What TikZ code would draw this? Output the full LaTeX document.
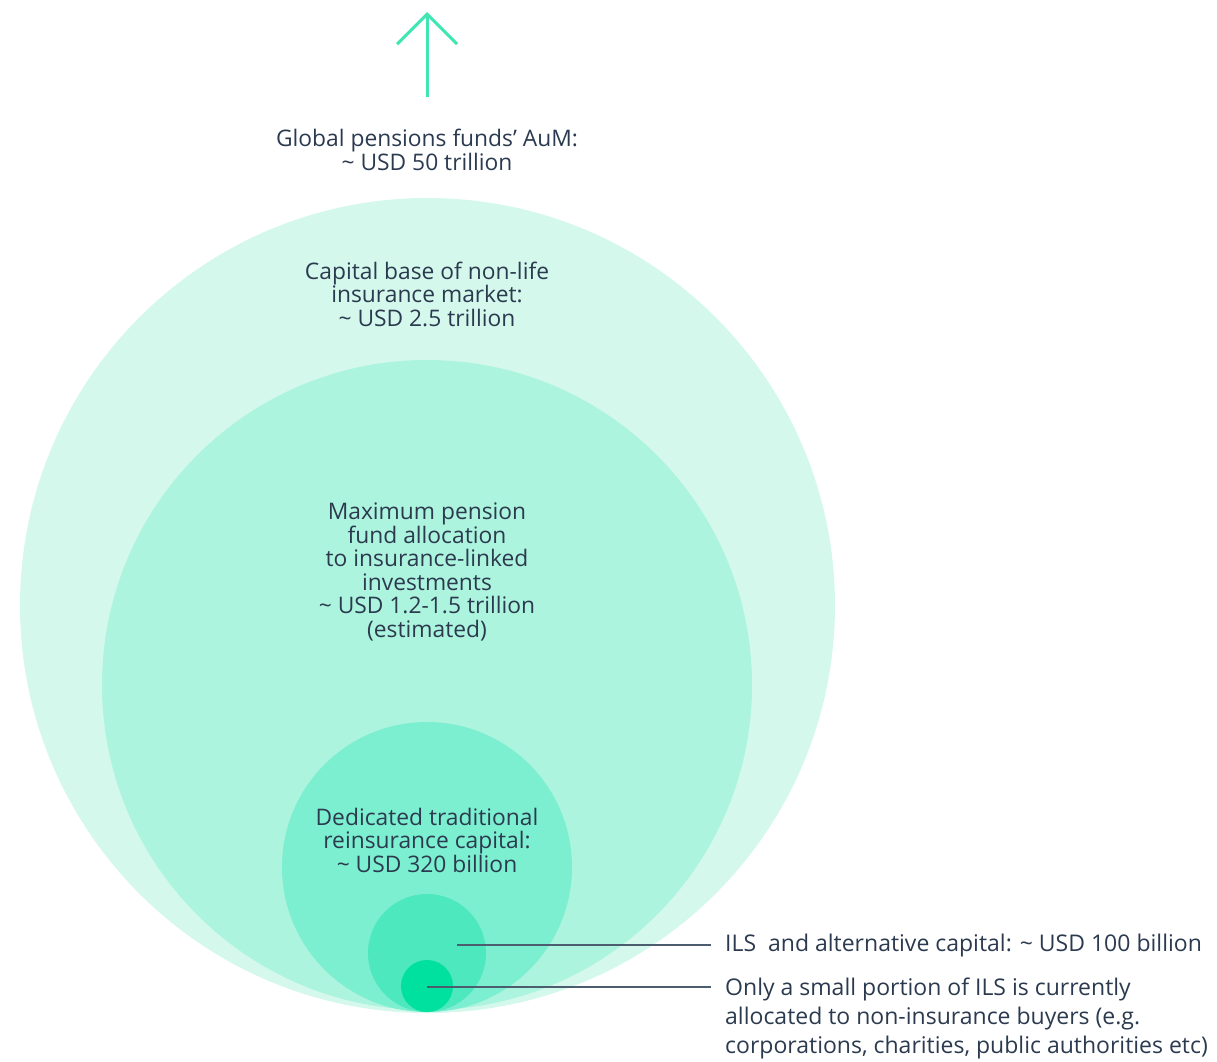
\documentclass[tikz,border=0pt]{standalone}
\usepackage{fontspec}
\setmainfont{Open Sans}
\usepackage{tikz}
\usetikzlibrary{positioning}
\usetikzlibrary{arrows.meta}
\definecolor{inktext}{HTML}{2B3A4F}
\definecolor{leader}{HTML}{4B5D6E}
\definecolor{arrowgreen}{HTML}{3FE6B2}
\definecolor{ringA}{HTML}{D4F8EC}
\definecolor{ringB}{HTML}{ADF4DE}
\definecolor{ringC}{HTML}{7CEFD0}
\definecolor{ringD}{HTML}{4EE8BE}
\definecolor{ringE}{HTML}{00E09E}
\tikzstyle{ring} = [circle, draw=none, inner sep=0pt]
\tikzstyle{ringtext} = [text=inktext, align=center, inner sep=0pt,
    font=\fontsize{22.8}{23.5}\selectfont]
\tikzstyle{sidetext} = [text=inktext, align=left, inner sep=0pt, inner xsep=14pt,
    font=\fontsize{23}{29}\selectfont]
\tikzstyle{line} = [draw=leader, line width=1.6pt]
\tikzstyle{upline} = [draw=arrowgreen, line width=3pt,
    -{Straight Barb[length=30pt, width=60pt]}]

\begin{document}
\begin{tikzpicture}[x=1pt, y=-1pt]
    \useasboundingbox (0,0) rectangle (1217,1061);
        % Circles
    \node [ring, fill=ringA, minimum size=815pt] (base) at (427.5,605.5) {};
    \node [ring, fill=ringB, minimum size=650pt] (maxalloc) at (427,685) {};
    \node [ring, fill=ringC, minimum size=290pt] (reins) at (427,867) {};
    \node [ring, fill=ringD, minimum size=118pt] (ils) at (427,953) {};
    \node [ring, fill=ringE, minimum size=52pt] (small) at (427,986) {};
        % Texts
    \node [ringtext] (pensions) at (427,150) {Global pensions funds’ AuM:\\ \textasciitilde{} USD 50 trillion};
    \node [ringtext] (basetext) at (427,294) {Capital base of non-life\\ insurance market:\\ \textasciitilde{} USD 2.5 trillion};
    \node [ringtext] (maxtext) at (427,572) {Maximum pension\\ fund allocation\\ to insurance-linked\\ investments\\ \textasciitilde{} USD 1.2-1.5 trillion\\ (estimated)};
    \node [ringtext] (reinstext) at (427,840) {Dedicated traditional\\ reinsurance capital:\\ \textasciitilde{} USD 320 billion};
    \node [sidetext, anchor=west] (ilstext) at (711,946) {ILS\ \ and alternative capital: \textasciitilde{} USD 100 billion};
    \node [sidetext, anchor=north west] (smalltext) at (711,978) {Only a small portion of ILS is currently\\ allocated to non-insurance buyers (e.g.\\ corporations, charities, public authorities etc)};
        % Arrow and leaders
    \coordinate (arrowfoot) at (427,97);
    \coordinate (arrowtip) at (427,12);
    \coordinate (ilsdot) at (457,945);
    \coordinate (smalldot) at (427,987);
    \path [upline] (arrowfoot) -- (arrowtip);
    \path [line] (ilsdot) -- (ilsdot -| ilstext.west);
    \path [line] (smalldot) -- (smalldot -| smalltext.west);
\end{tikzpicture}
\end{document}
